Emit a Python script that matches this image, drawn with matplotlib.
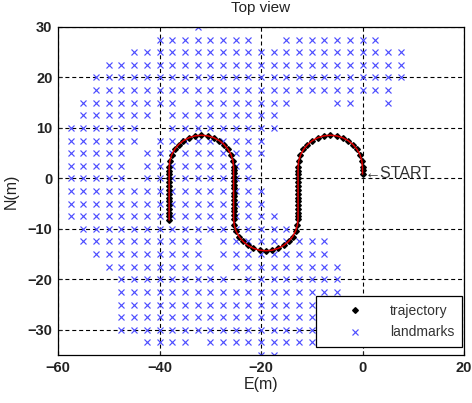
import numpy as np
import matplotlib
matplotlib.use('Agg')
import matplotlib.pyplot as plt

plt.rcParams['font.family'] = ['Liberation Sans', 'DejaVu Sans']

# landmark rows (N) and the E-spans of landmarks on each row (grid step 2.5 m)
lm_step = 2.5
lm_rows = [30, 27.5, 25, 22.5, 20, 17.5, 15, 12.5, 10, 7.5, 5, 2.5, 0,
           -2.5, -5, -7.5, -10, -12.5, -15, -17.5, -20, -22.5, -25, -27.5,
           -30, -32.5, -35]
lm_spans = [
    [(-32.5, -32.5)],
    [(-40, -22.5), (-15, 2.5)],
    [(-45, 7.5)],
    [(-50, 7.5)],
    [(-52.5, 7.5)],
    [(-52.5, 5)],
    [(-55, -37.5), (-32.5, -15), (-5, -2.5), (5, 5)],
    [(-55, -42.5), (-37.5, -17.5)],
    [(-57.5, -45), (-37.5, -17.5)],
    [(-57.5, -45), (-40, -20)],
    [(-57.5, -47.5), (-42.5, -20)],
    [(-57.5, -47.5), (-42.5, -22.5)],
    [(-57.5, -47.5), (-42.5, -22.5)],
    [(-57.5, -20)],
    [(-57.5, -20)],
    [(-57.5, -17.5)],
    [(-55, -15)],
    [(-55, -32.5), (-27.5, -7.5)],
    [(-52.5, -32.5), (-27.5, -7.5)],
    [(-50, -30), (-25, -5)],
    [(-47.5, -27.5), (-22.5, -5)],
    [(-47.5, -5)],
    [(-47.5, -10)],
    [(-47.5, -10)],
    [(-47.5, -10)],
    [(-42.5, -35), (-30, -10)],
    [(-20, -17.5)],
]

# trajectory points (E, N in metres)
traj_E = [0, 0,
          0, -0.12, -0.48, -1.07, -1.86, -2.82, -3.92, -5.11, -6.35, -7.59, -8.78, -9.88, -10.84, -11.63, -12.22, -12.58, -12.7,
          -12.7, -12.7, -12.7, -12.7, -12.7, -12.7, -12.7, -12.7, -12.7, -12.7, -12.7, -12.7, -12.7,
          -12.7, -12.82, -13.18, -13.77, -14.56, -15.52, -16.62, -17.81, -19.05, -20.29, -21.48, -22.58, -23.54, -24.33, -24.92, -25.28, -25.4,
          -25.4, -25.4, -25.4, -25.4, -25.4, -25.4, -25.4, -25.4, -25.4, -25.4, -25.4, -25.4, -25.4,
          -25.4, -25.52, -25.88, -26.47, -27.26, -28.22, -29.32, -30.51, -31.75, -32.99, -34.18, -35.28, -36.24, -37.03, -37.62, -37.98, -38.1,
          -38.1, -38.1, -38.1, -38.1, -38.1, -38.1, -38.1, -38.1, -38.1, -38.1, -38.1, -38.1, -38.1, -38.1]
traj_N = [0.9, 1.6,
          2.2, 3.44, 4.63, 5.73, 6.69, 7.48, 8.07, 8.43, 8.55, 8.43, 8.07, 7.48, 6.69, 5.73, 4.63, 3.44, 2.2,
          1.5, 0.8, 0.0, -0.8, -1.5, -2.3, -3.0, -3.8, -4.5, -5.3, -6.0, -6.8, -7.5,
          -8, -9.24, -10.43, -11.53, -12.49, -13.28, -13.87, -14.23, -14.35, -14.23, -13.87, -13.28, -12.49, -11.53, -10.43, -9.24, -8,
          -7.3, -6.5, -5.8, -5.0, -4.3, -3.5, -2.8, -2.0, -1.3, -0.5, 0.3, 1.0, 1.6,
          2.2, 3.44, 4.63, 5.73, 6.69, 7.48, 8.07, 8.43, 8.55, 8.43, 8.07, 7.48, 6.69, 5.73, 4.63, 3.44, 2.2,
          1.5, 0.8, 0.0, -0.8, -1.5, -2.3, -3.0, -3.8, -4.5, -5.3, -6.0, -6.8, -7.5, -8.2]

x_ticks = [-60, -40, -20, 0, 20]
y_ticks = [-30, -20, -10, 0, 10, 20, 30]

lm_E, lm_N = [], []
for n, spans in zip(lm_rows, lm_spans):
    for lo, hi in spans:
        for e in np.arange(lo, hi + 0.01, lm_step):
            lm_E.append(e)
            lm_N.append(n)

fig = plt.figure(figsize=(4.72, 4.03), dpi=100)
ax = fig.add_axes([58/472, 1-355/403, 406/472, 328/403])

lm, = ax.plot(lm_E, lm_N, 'x', color=(0.3, 0.3, 1.0), ms=4.6, mew=0.85,
              ls='none', label='landmarks', zorder=2)
tr, = ax.plot(traj_E, traj_N, 'D', color='black', ms=2.9, ls='none',
              label='trajectory', zorder=3)
ax.plot(traj_E, traj_N, '-', color='#dd0000', lw=1.1, zorder=4)

ax.text(0.4, 1.0, '\u2190START', fontsize=11.5, color='#333333',
        ha='left', va='center', zorder=5)

ax.set_xlim(-60, 20)
ax.set_ylim(-35, 30)
ax.set_xticks(x_ticks)
ax.set_yticks(y_ticks)
ax.grid(True, color='black', lw=0.8, dashes=(3.6, 2.6))
ax.tick_params(direction='in', length=3, width=0.8, labelsize=10.5,
               colors='#222222', pad=4)
for lab in ax.get_xticklabels() + ax.get_yticklabels():
    lab.set_fontweight('bold')
for s in ax.spines.values():
    s.set_linewidth(0.9)

ax.set_title('Top view', fontsize=11, color='#222222', pad=11)
ax.set_xlabel('E(m)', fontsize=11.5, color='#222222', labelpad=2)
ax.set_ylabel('N(m)', fontsize=11.5, color='#222222', labelpad=6)

leg = ax.legend(handles=[tr, lm], loc='lower right',
                bbox_to_anchor=(0.995, 0.024), borderaxespad=0,
                fontsize=10, handlelength=4.6, handletextpad=0.2,
                borderpad=0.55, labelspacing=0.55, fancybox=False,
                framealpha=1, edgecolor='black')
leg.get_frame().set_linewidth(0.9)
for t in leg.get_texts():
    t.set_color('#333333')

fig.savefig('out.png', dpi=100, facecolor='white')
